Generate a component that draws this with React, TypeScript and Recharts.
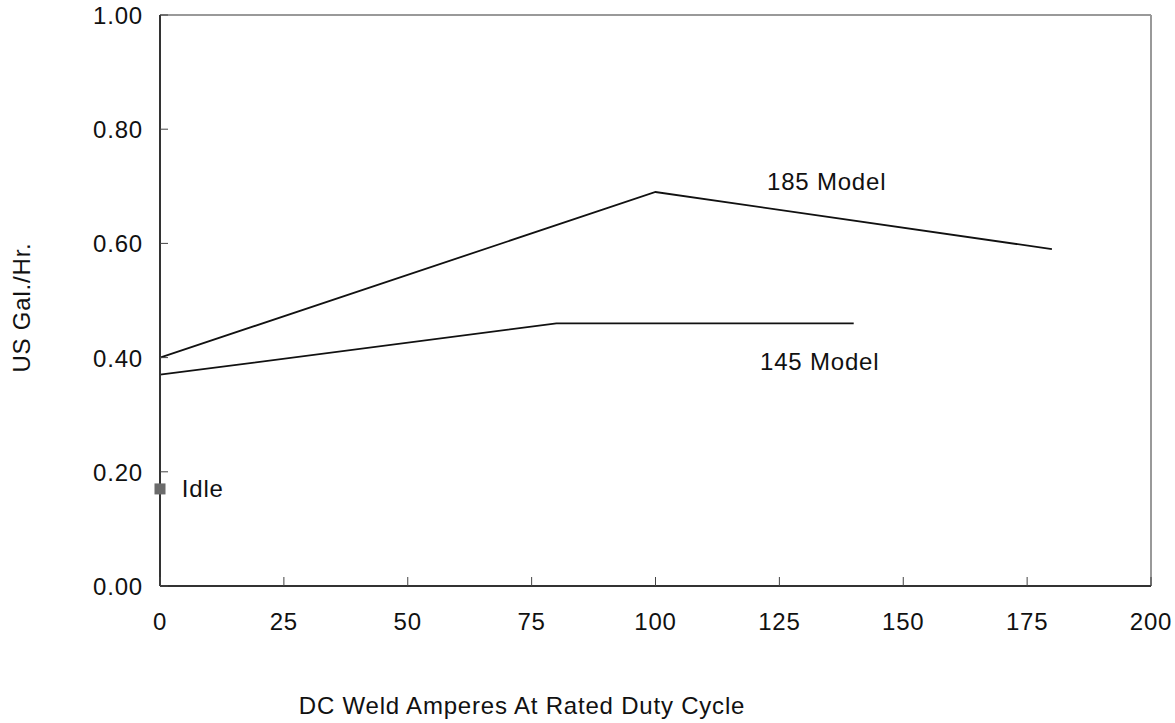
import {
  ComposedChart, Line, Scatter, XAxis, YAxis, ReferenceLine, ReferenceDot, Label,
} from 'recharts';

const xTicks = [0, 25, 50, 75, 100, 125, 150, 175, 200];
const yTicks = [0, 0.2, 0.4, 0.6, 0.8, 1.0];

const model185 = [
  { x: 0, y: 0.4 },
  { x: 100, y: 0.69 },
  { x: 180, y: 0.59 },
];
const model145 = [
  { x: 0, y: 0.37 },
  { x: 80, y: 0.46 },
  { x: 140, y: 0.46 },
];
const idle = [{ x: 0, y: 0.17 }];

// where the series captions sit, in data units
const captions = [
  { x: 122.5, y: 0.693, text: '185 Model' },
  { x: 121.1, y: 0.378, text: '145 Model' },
  { x: 4.4, y: 0.155, text: 'Idle' },
];

const FONT = '"Liberation Sans", Arial, Helvetica, sans-serif';
const textStyle = { fontFamily: FONT, fontSize: 24, letterSpacing: 0.8, fill: '#111' };

const XTick = (p: any) => (
  <g>
    <line x1={p.x} x2={p.x} y1={p.y} y2={p.y - 9} stroke="#444" strokeWidth={1} />
    <text x={p.x} y={p.y + 44} textAnchor="middle" style={textStyle}>{p.payload.value}</text>
  </g>
);

const YTick = (p: any) => (
  <g>
    <line x1={p.x} x2={p.x + 8} y1={p.y} y2={p.y} stroke="#444" strokeWidth={1} />
    <text x={p.x - 17} y={p.y + 9} textAnchor="end" style={textStyle}>
      {Number(p.payload.value).toFixed(2)}
    </text>
  </g>
);

const XTitle = ({ viewBox }: any) => (
  <text x={viewBox.x + 362} y={714} textAnchor="middle" style={textStyle}>
    DC Weld Amperes At Rated Duty Cycle
  </text>
);

const YTitle = ({ viewBox }: any) => {
  const cx = 30;
  const cy = viewBox.y + viewBox.height / 2 + 7;
  return (
    <text x={cx} y={cy} transform={`rotate(-90 ${cx} ${cy})`} textAnchor="middle" style={textStyle}>
      US Gal./Hr.
    </text>
  );
};

const IdleMarker = (p: any) => (
  <rect x={p.cx - 5.5} y={p.cy - 5.5} width={11} height={11} fill="#6b6b6b" />
);

export default function App() {
  return (
    <div style={{ position: 'absolute', left: 0, top: 0, width: 1175, height: 723, background: '#fff' }}>
      <ComposedChart width={1175} height={723} margin={{ top: 15, right: 24, left: 100, bottom: 107 }}>
        <XAxis
          dataKey="x" type="number" domain={[0, 200]} ticks={xTicks} height={30}
          axisLine={{ stroke: '#333', strokeWidth: 2 }} tickLine={false} tickSize={0} tickMargin={0}
          tick={<XTick />} interval={0}
        >
          <Label content={<XTitle />} />
        </XAxis>
        <YAxis
          dataKey="y" type="number" domain={[0, 1]} ticks={yTicks} width={60}
          axisLine={{ stroke: '#333', strokeWidth: 2 }} tickLine={false} tickSize={0} tickMargin={0}
          tick={<YTick />} interval={0}
        >
          <Label content={<YTitle />} />
        </YAxis>
        <ReferenceLine y={1} stroke="#999" strokeWidth={2} />
        <ReferenceLine x={200} stroke="#999" strokeWidth={2} />
        <Line data={model185} dataKey="y" stroke="#111" strokeWidth={1.8} dot={false} isAnimationActive={false} />
        <Line data={model145} dataKey="y" stroke="#111" strokeWidth={1.8} dot={false} isAnimationActive={false} />
        <Scatter data={idle} dataKey="y" shape={<IdleMarker />} isAnimationActive={false} />
        {captions.map((c) => (
          <ReferenceDot
            key={c.text} x={c.x} y={c.y}
            shape={(p: any) => <text x={p.cx} y={p.cy} style={textStyle}>{c.text}</text>}
          />
        ))}
      </ComposedChart>
    </div>
  );
}
